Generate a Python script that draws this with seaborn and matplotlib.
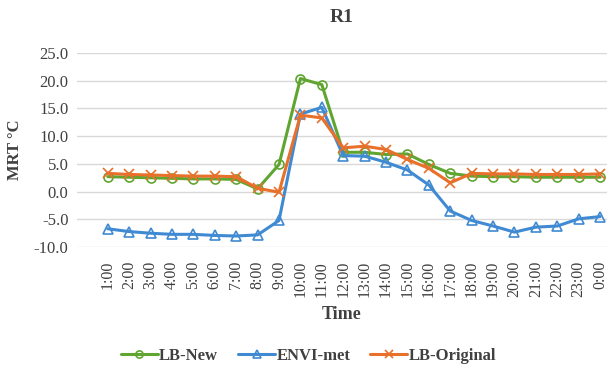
import numpy as np
import pandas as pd
import matplotlib
matplotlib.use("Agg")
import matplotlib.pyplot as plt
import seaborn as sns

# data
times = ["1:00", "2:00", "3:00", "4:00", "5:00", "6:00", "7:00", "8:00", "9:00",
         "10:00", "11:00", "12:00", "13:00", "14:00", "15:00", "16:00", "17:00",
         "18:00", "19:00", "20:00", "21:00", "22:00", "23:00", "0:00"]
lb_new = [2.7, 2.6, 2.5, 2.4, 2.3, 2.3, 2.2, 0.5, 4.9, 20.4, 19.3, 7.1, 7.1, 6.7,
          6.8, 4.9, 3.3, 2.8, 2.7, 2.7, 2.6, 2.6, 2.6, 2.6]
envi_met = [-6.7, -7.2, -7.5, -7.7, -7.7, -7.9, -8.0, -7.8, -5.2, 14.0, 15.2, 6.5,
            6.4, 5.3, 3.9, 1.2, -3.5, -5.2, -6.2, -7.3, -6.4, -6.2, -4.9, -4.5]
lb_original = [3.3, 3.1, 3.0, 2.9, 2.8, 2.8, 2.7, 0.6, -0.1, 13.8, 13.3, 7.9, 8.2,
               7.6, 5.8, 4.2, 1.6, 3.3, 3.2, 3.2, 3.1, 3.1, 3.1, 3.2]
y_ticks = [-10, -5, 0, 5, 10, 15, 20, 25]

sns.set_style("white")
plt.rcParams["font.family"] = ["Liberation Serif", "DejaVu Serif"]

fig = plt.figure(figsize=(6.09, 3.71), dpi=100)
ax = fig.add_axes([0.126, 0.334, 0.871, 0.523])

x = np.arange(len(times))
series = [
    ("LB-New", lb_new, "#5FA530", "o", 6.5),
    ("ENVI-met", envi_met, "#3F8AD2", "^", 6.5),
    ("LB-Original", lb_original, "#E8702A", "x", 6.5),
]
for name, vals, color, mk, ms in series:
    sns.lineplot(x=x, y=vals, ax=ax, color=color, linewidth=2.2, label=name,
                 marker=mk, markersize=ms, markerfacecolor="none",
                 markeredgecolor=color, markeredgewidth=1.2)

ax.set_xlim(-1.45, len(times) - 0.67)
ax.set_ylim(-10, 25)
ax.set_yticks(y_ticks)
ax.set_yticklabels([f"{v:.1f}" for v in y_ticks], fontsize=12, color="#404040")
ax.set_xticks(x)
ax.set_xticklabels(times, rotation=90, fontsize=11.5, color="#404040")
ax.tick_params(axis="y", length=0, pad=6)
ax.tick_params(axis="x", length=0, pad=10)
ax.grid(axis="y", color="#D9D9D9", linewidth=1.0)
ax.set_axisbelow(True)
for s in ax.spines.values():
    s.set_visible(False)

ax.set_title("R1", fontsize=14, fontweight="bold", color="#404040", pad=22)
ax.set_xlabel("Time", fontsize=13, fontweight="bold", color="#404040", labelpad=6)
ax.set_ylabel("MRT °C", fontsize=12, fontweight="bold", color="#404040", labelpad=8)

ax.legend(loc="center", bbox_to_anchor=(0.437, -0.56), ncol=3, frameon=False,
          prop={"weight": "bold", "size": 12}, handlelength=2.2, markerscale=0.8,
          handletextpad=0.1, columnspacing=1.2, labelcolor="#404040")

fig.savefig("out.png", dpi=100)
